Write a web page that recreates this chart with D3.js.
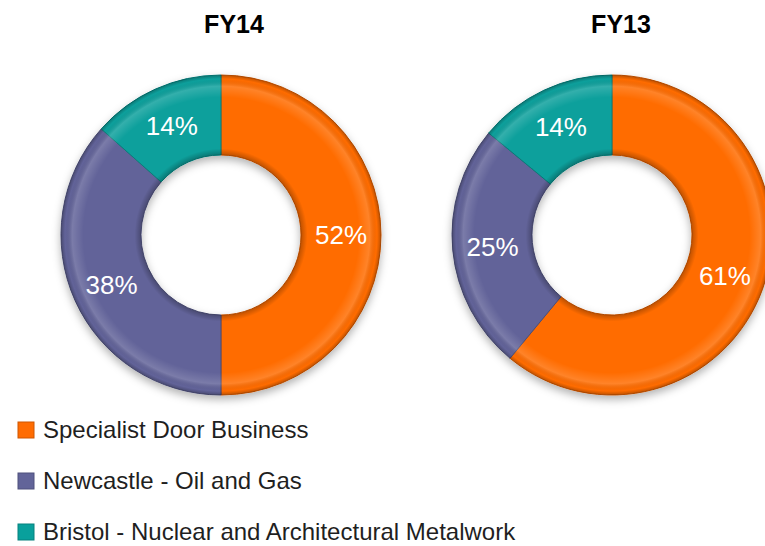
<!DOCTYPE html>
<html>
<head>
<meta charset="utf-8">
<script src="https://cdn.jsdelivr.net/npm/d3@7"></script>
<style>
  body { margin: 0; background: #fff; }
  svg { display: block; }
</style>
</head>
<body>
<div id="chart"></div>
<script>
// Segment revenue split, two donuts
const segments = ['Specialist Door Business', 'Newcastle - Oil and Gas', 'Bristol - Nuclear and Architectural Metalwork']
const years = ['FY14', 'FY13']
const fy14 = [52, 38, 14]
const fy13 = [61, 25, 14]
const colors = ['#FF6C02', '#626499', '#09A09C']

var width = 765
var height = 546

const svg = d3.select('#chart')
  .append('svg')
  .attr('width', width)
  .attr('height', height)

const defs = svg.append('defs')

// soft shadow under the rings
const shadow = defs.append('filter')
  .attr('id', 'shadow')
  .attr('x', '-20%').attr('y', '-20%')
  .attr('width', '140%').attr('height', '140%')
shadow.append('feDropShadow')
  .attr('dx', 0).attr('dy', 4)
  .attr('stdDeviation', 4)
  .attr('flood-color', '#000')
  .attr('flood-opacity', 0.3)

// bevel gradient (in each donut's local space, centred on 0,0)
const outerR = 160
const innerR = 80
const grad = defs.append('radialGradient')
  .attr('id', 'bevel')
  .attr('gradientUnits', 'userSpaceOnUse')
  .attr('cx', 0).attr('cy', 0).attr('r', outerR)
const stops = [
  [0.50, '#000', 0.25],
  [0.54, '#000', 0.0],
  [0.86, '#fff', 0.0],
  [0.93, '#fff', 0.16],
  [0.975, '#000', 0.0],
  [1.0, '#000', 0.25]
]
stops.forEach(s => grad.append('stop')
  .attr('offset', s[0])
  .attr('stop-color', s[1])
  .attr('stop-opacity', s[2]))

// donut layout
const centers = [{ x: 221, y: 235 }, { x: 612, y: 235 }]
const titleX = [234, 621]

const pie = d3.pie().sort(null).value(d => d)
const arc = d3.arc().innerRadius(innerR).outerRadius(outerR)

const x = d3.scaleOrdinal().domain(years).range(centers)
const color = d3.scaleOrdinal().domain(segments).range(colors)

const sets = [fy14, fy13]

years.forEach((yr, k) => {
  const c = x(yr)

  const g = svg.append('g')
    .attr('transform', `translate(${c.x},${c.y})`)

  const ring = g.append('g').attr('filter', 'url(#shadow)')

  const arcs = pie(sets[k])

  ring.selectAll('path.slice')
    .data(arcs)
    .enter()
    .append('path')
    .attr('class', 'slice')
    .attr('d', arc)
    .attr('fill', (d, i) => color(segments[i]))
    .attr('stroke', (d, i) => d3.color(color(segments[i])).darker(0.7))
    .attr('stroke-width', 1)

  // bevel overlay
  g.selectAll('path.bevel')
    .data(arcs)
    .enter()
    .append('path')
    .attr('class', 'bevel')
    .attr('d', arc)
    .attr('fill', 'url(#bevel)')

  // labels
  g.selectAll('text.pct')
    .data(arcs)
    .enter()
    .append('text')
    .attr('class', 'pct')
    .attr('x', d => arc.centroid(d)[0])
    .attr('y', d => arc.centroid(d)[1])
    .attr('dy', '0.36em')
    .attr('text-anchor', 'middle')
    .attr('font-family', 'Liberation Sans, Arial, sans-serif')
    .attr('font-size', 26)
    .attr('fill', '#fff')
    .text(d => `${d.data}%`)

  // title
  svg.append('text')
    .attr('x', titleX[k])
    .attr('y', 33)
    .attr('text-anchor', 'middle')
    .attr('font-family', 'Liberation Sans, Arial, sans-serif')
    .attr('font-weight', 'bold')
    .attr('font-size', 25)
    .attr('fill', '#000')
    .text(yr)
})

// legend
const legend = svg.append('g')
  .attr('id', 'legend')
  .attr('transform', 'translate(18, 422)')

legend.selectAll('rect')
  .data(segments)
  .enter()
  .append('rect')
  .attr('x', 0)
  .attr('y', (d, i) => i * 51)
  .attr('width', 16)
  .attr('height', 16)
  .attr('fill', d => color(d))
  .attr('stroke', d => d3.color(color(d)).darker(0.6))
  .attr('stroke-width', 1)

legend.selectAll('text')
  .data(segments)
  .enter()
  .append('text')
  .attr('x', 25)
  .attr('y', (d, i) => 16 + i * 51)
  .attr('font-family', 'Liberation Sans, Arial, sans-serif')
  .attr('font-size', 24)
  .attr('fill', '#1f1f1f')
  .text(d => d)
</script>
</body>
</html>
